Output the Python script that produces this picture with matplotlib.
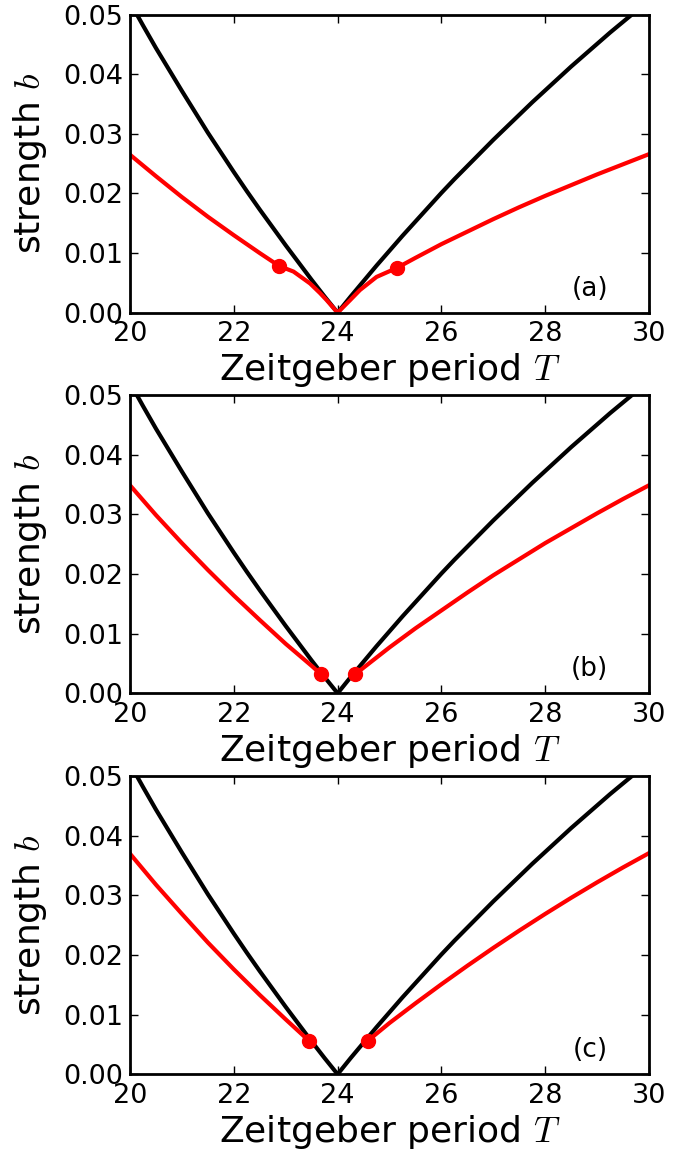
import numpy as np
import matplotlib
matplotlib.use('Agg')
import matplotlib.pyplot as plt

plt.rcParams.update({'font.size': 19.5})
plt.rcParams['mathtext.fontset'] = 'cm'

# Arnold tongue boundary (same in all panels)
T_black = [20.0, 20.25, 20.5, 20.75, 21.0, 21.25, 21.5, 21.75, 22.0, 22.25, 22.5, 22.75,
           23.0, 23.25, 23.5, 23.75, 24.0, 24.25, 24.5, 24.75, 25.0, 25.25, 25.5, 25.75,
           26.0, 26.25, 26.5, 26.75, 27.0, 27.25, 27.5, 27.75, 28.0, 28.25, 28.5, 28.75,
           29.0, 29.25, 29.5, 29.75, 30.0]
b_black = [0.0521, 0.0482, 0.0444, 0.0408, 0.0372, 0.0337, 0.0302, 0.0269, 0.0236, 0.0204, 0.0173, 0.0143,
           0.0113, 0.0084, 0.0055, 0.0027, 0.0, 0.0027, 0.0053, 0.0079, 0.0104, 0.0129, 0.0153, 0.0177,
           0.0201, 0.0224, 0.0246, 0.0268, 0.0290, 0.0311, 0.0332, 0.0353, 0.0373, 0.0393, 0.0413, 0.0432,
           0.0451, 0.0470, 0.0488, 0.0506, 0.0524]

# panel (a)
T_red_a = [20.0, 20.5, 21.0, 21.5, 22.0, 22.5, 22.88, 23.15, 23.47, 23.66, 23.79, 24.0,
           24.24, 24.43, 24.75, 25.14, 25.5, 26.0, 26.5, 27.0, 27.5, 28.0, 28.5, 29.0, 29.5, 30.0]
b_red_a = [0.0265, 0.0229, 0.0194, 0.0161, 0.0130, 0.0100, 0.0078, 0.0069, 0.0049, 0.0033, 0.0021, 0.0,
           0.0021, 0.0038, 0.0060, 0.0075, 0.0092, 0.0115, 0.0136, 0.0157, 0.0177, 0.0196, 0.0214, 0.0232, 0.0249, 0.0266]
T_dots_a = [22.88, 25.14]
b_dots_a = [0.0078, 0.0075]

# panel (b)
T_red_b_left = [20.0, 20.5, 21.0, 21.5, 22.0, 22.5, 23.0, 23.5, 23.68]
b_red_b_left = [0.0349, 0.0299, 0.0252, 0.0207, 0.0164, 0.0123, 0.0083, 0.0046, 0.0032]
T_red_b_right = [24.34, 24.5, 25.0, 25.5, 26.0, 26.5, 27.0, 27.5, 28.0, 28.5, 29.0, 29.5, 30.0]
b_red_b_right = [0.0032, 0.0043, 0.0077, 0.0109, 0.0139, 0.0169, 0.0198, 0.0225, 0.0252, 0.0277, 0.0302, 0.0326, 0.0349]
T_dots_b = [23.68, 24.34]
b_dots_b = [0.0032, 0.0032]

# panel (c)
T_red_c_left = [20.0, 20.5, 21.0, 21.5, 22.0, 22.5, 23.0, 23.45]
b_red_c_left = [0.0370, 0.0318, 0.0269, 0.0221, 0.0176, 0.0133, 0.0092, 0.0056]
T_red_c_right = [24.58, 25.0, 25.5, 26.0, 26.5, 27.0, 27.5, 28.0, 28.5, 29.0, 29.5, 30.0]
b_red_c_right = [0.0056, 0.0086, 0.0119, 0.0151, 0.0182, 0.0212, 0.0241, 0.0269, 0.0296, 0.0322, 0.0347, 0.0371]
T_dots_c = [23.45, 24.58]
b_dots_c = [0.0056, 0.0056]

fig = plt.figure(figsize=(6.97, 11.53), dpi=100)

bottoms = [0.7288, 0.3987, 0.0683]
panels = [
    ([(T_red_a, b_red_a)], (T_dots_a, b_dots_a), '(a)'),
    ([(T_red_b_left, b_red_b_left), (T_red_b_right, b_red_b_right)], (T_dots_b, b_dots_b), '(b)'),
    ([(T_red_c_left, b_red_c_left), (T_red_c_right, b_red_c_right)], (T_dots_c, b_dots_c), '(c)'),
]

for bot, (reds, dots, tag) in zip(bottoms, panels):
    ax = fig.add_axes([0.1865, bot, 0.7447, 0.2585])
    ax.plot(T_black, b_black, color='k', lw=3)
    for T, b in reds:
        ax.plot(T, b, color='r', lw=3)
    ax.plot(dots[0], dots[1], 'o', color='r', ms=10, mec='r')
    ax.set_xlim(20, 30)
    ax.set_ylim(0, 0.05)
    ax.set_xticks([20, 22, 24, 26, 28, 30])
    ax.set_yticks([0.0, 0.01, 0.02, 0.03, 0.04, 0.05])
    ax.set_yticklabels(['0.00', '0.01', '0.02', '0.03', '0.04', '0.05'])
    ax.tick_params(direction='in', top=True, right=True, length=6, width=1)
    ax.tick_params(axis='x', pad=6)
    ax.tick_params(axis='y', pad=5)
    for s in ax.spines.values():
        s.set_linewidth(2)
    ax.set_xlabel('Zeitgeber period $T$', fontsize=26, labelpad=3)
    ax.set_ylabel('strength $b$', fontsize=26, labelpad=10)
    ax.text(0.886, 0.08, tag, transform=ax.transAxes, ha='center', va='center', fontsize=19)

plt.savefig('out.png', dpi=100)
